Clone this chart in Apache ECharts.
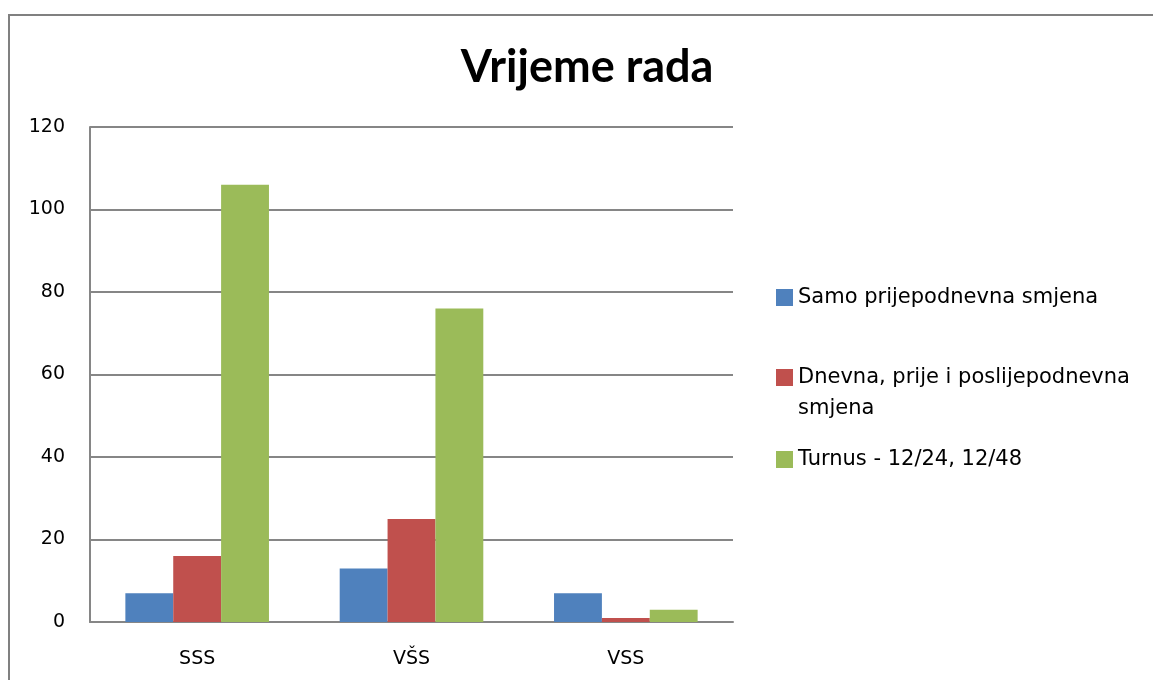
<!DOCTYPE html>
<html>
<head>
<meta charset="utf-8">
<title>Vrijeme rada</title>
<script src="https://cdn.jsdelivr.net/npm/echarts@6/dist/echarts.min.js"></script>
<style>
  html, body { margin: 0; padding: 0; background: #fff; }
  #chart { width: 1153px; height: 680px; }
</style>
</head>
<body>
<div id="chart"></div>
<script>
// kategorije i vrijednosti
const categories = ['SSS', 'VŠS', 'VSS'];
const seriesNames = [
  'Samo prijepodnevna smjena',
  'Dnevna, prije i poslijepodnevna smjena',
  'Turnus - 12/24, 12/48'
];
const samoPrijepodnevna = [7, 13, 7];
const dnevnaPrijePoslije = [16, 25, 1];
const turnus = [106, 76, 3];
const yTicks = [0, 20, 40, 60, 80, 100, 120];

const colors = ['#4F81BD', '#C0504D', '#9BBB59'];
const font = 'DejaVu Sans';
const gridColor = '#868686';

const chart = echarts.init(document.getElementById('chart'));

// legenda - svaka stavka posebno; prazan prvi red drzi ikonu uz "Dnevna..."
const legendTops = [282, 331, 444];
const legends = seriesNames.map((name, i) => ({
  orient: 'vertical',
  left: 776,
  top: legendTops[i],
  padding: 0,
  itemWidth: 17,
  itemHeight: 17,
  icon: 'rect',
  data: [name],
  formatter: n => n === seriesNames[1] ? ' \nDnevna, prije i poslijepodnevna\nsmjena' : n,
  textStyle: {
    fontFamily: font,
    fontSize: 21,
    color: '#000',
    lineHeight: 31
  }
}));

const option = {
  animation: false,
  title: {
    text: 'Vrijeme rada',
    left: 587,
    top: 45,
    padding: 0,
    textAlign: 'center',
    textStyle: { fontFamily: 'Lato', fontSize: 45, fontWeight: 'bold', color: '#000' }
  },
  legend: legends,
  grid: { left: 90, right: 420, top: 127, bottom: 58 },
  xAxis: {
    type: 'category',
    data: categories,
    axisLine: { lineStyle: { color: gridColor, width: 2 } },
    axisTick: { show: false },
    axisLabel: { fontFamily: font, fontSize: 19, color: '#000', margin: 28 }
  },
  yAxis: {
    type: 'value',
    min: 0,
    max: yTicks[yTicks.length - 1],
    interval: yTicks[1] - yTicks[0],
    axisLine: { show: true, lineStyle: { color: gridColor, width: 2 } },
    axisTick: { show: false },
    axisLabel: { fontFamily: font, fontSize: 19, color: '#000', margin: 25 },
    splitLine: { lineStyle: { color: gridColor, width: 2 } }
  },
  graphic: [{
    type: 'rect',
    shape: { x: 9, y: 15, width: 1200, height: 700 },
    style: { fill: 'none', stroke: '#808080', lineWidth: 2 },
    silent: true
  }],
  series: [samoPrijepodnevna, dnevnaPrijePoslije, turnus].map((d, i) => ({
    name: seriesNames[i],
    type: 'bar',
    data: d,
    barGap: '0%',
    barCategoryGap: '33%',
    itemStyle: { color: colors[i] }
  }))
};

chart.setOption(option);
</script>
</body>
</html>
